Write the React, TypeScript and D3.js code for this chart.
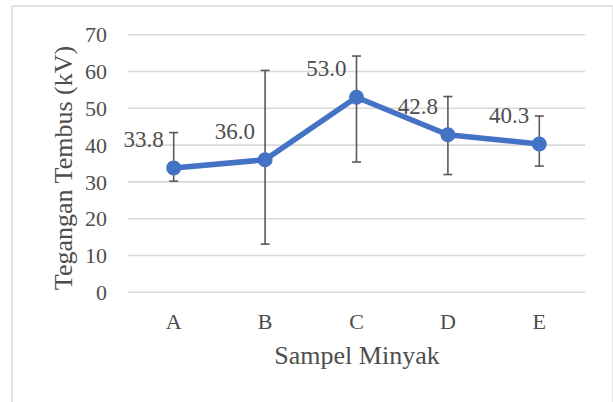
import React from "react";
import * as d3 from "d3";

const categories = ["A", "B", "C", "D", "E"];
const values = [33.8, 36.0, 53.0, 42.8, 40.3];
const errUpper = [43.4, 60.3, 64.2, 53.2, 47.9];
const errLower = [30.2, 13.1, 35.4, 32.0, 34.3];
const yTicks = [0, 10, 20, 30, 40, 50, 60, 70];

const W = 613;
const H = 402;
const FONT = '"Liberation Serif", "DejaVu Serif", serif';
const TEXT = "#4d4d4d";
const BLUE = "#4472C4";

export default function App() {
  const x = d3.scaleBand<string>().domain(categories).range([128, 585]).padding(0);
  const y = d3.scaleLinear().domain([0, 70]).range([292.3, 34.7]);
  const cx = (c: string) => (x(c) as number) + x.bandwidth() / 2;
  const line = d3
    .line<number>()
    .x((_, i) => cx(categories[i]))
    .y((d) => y(d));

  const ts = (size: number): React.CSSProperties => ({ fontFamily: FONT, fontSize: size });

  return (
    <svg
      width={W}
      height={H}
      style={{ position: "absolute", left: 0, top: 0, background: "#fff", fontFamily: FONT }}
    >
      <rect x={0} y={0} width={W} height={H} fill="#fff" />
      {/* frame */}
      <line x1={12} y1={6} x2={W} y2={6} stroke="#d9d9d9" strokeWidth={1.5} />
      <line x1={12} y1={6} x2={12} y2={H} stroke="#d9d9d9" strokeWidth={1.5} />
      <line x1={612.5} y1={6} x2={612.5} y2={H} stroke="#e6e6e6" strokeWidth={1} />

      {/* gridlines */}
      {yTicks.map((t) => (
        <line key={t} x1={128} x2={585} y1={y(t)} y2={y(t)} stroke="#d9d9d9" strokeWidth={1.6} />
      ))}
      {/* y tick labels */}
      {yTicks.map((t) => (
        <text key={"l" + t} x={107} y={y(t)} dy="0.35em" textAnchor="end" style={ts(22)} fill={TEXT}>
          {t}
        </text>
      ))}
      {/* x labels */}
      {categories.map((c) => (
        <text key={c} x={cx(c)} y={329} textAnchor="middle" style={ts(22)} fill={TEXT}>
          {c}
        </text>
      ))}
      {/* axis titles */}
      <text x={357} y={364} textAnchor="middle" style={ts(26)} fill={TEXT}>
        Sampel Minyak
      </text>
      <text transform={`translate(72,168) rotate(-90)`} textAnchor="middle" style={ts(26)} fill={TEXT}>
        Tegangan Tembus (kV)
      </text>

      {/* error bars */}
      {categories.map((c, i) => (
        <g key={"e" + c} stroke="#595959" strokeWidth={1.6}>
          <line x1={cx(c)} x2={cx(c)} y1={y(errUpper[i])} y2={y(errLower[i])} />
          <line x1={cx(c) - 4.5} x2={cx(c) + 4.5} y1={y(errUpper[i])} y2={y(errUpper[i])} />
          <line x1={cx(c) - 4.5} x2={cx(c) + 4.5} y1={y(errLower[i])} y2={y(errLower[i])} />
        </g>
      ))}

      {/* line */}
      <path d={line(values) as string} fill="none" stroke={BLUE} strokeWidth={5.5} strokeLinejoin="round" />
      {values.map((v, i) => (
        <circle key={"p" + i} cx={cx(categories[i])} cy={y(v)} r={7.5} fill={BLUE} />
      ))}

      {/* data labels */}
      {values.map((v, i) => (
        <text
          key={"d" + i}
          x={cx(categories[i]) - 10}
          y={y(v) - 21}
          textAnchor="end"
          style={ts(23)}
          fill={TEXT}
        >
          {v.toFixed(1)}
        </text>
      ))}
    </svg>
  );
}
